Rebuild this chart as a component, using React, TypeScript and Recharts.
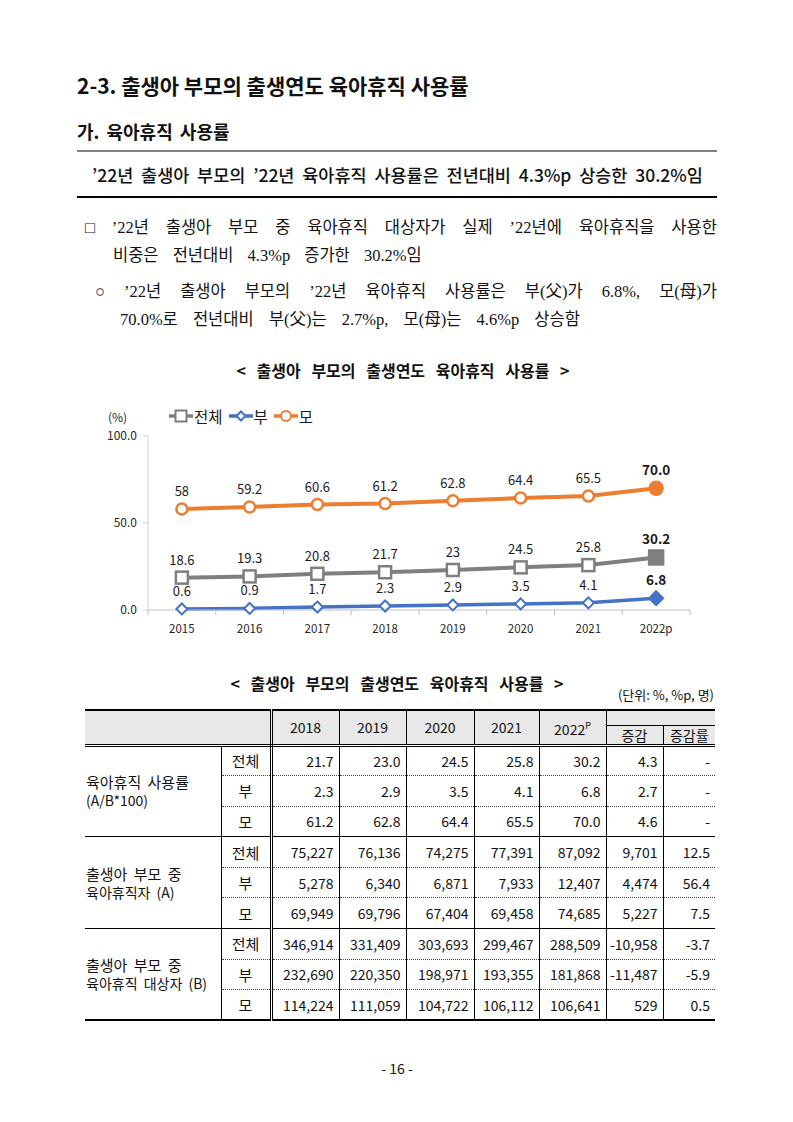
import { LineChart, Line, XAxis, YAxis, LabelList } from 'recharts'

// chart values (%)
const YEARS = ['2015', '2016', '2017', '2018', '2019', '2020', '2021', '2022p']
const TOTAL = [18.6, 19.3, 20.8, 21.7, 23, 24.5, 25.8, 30.2]
const FATHER = [0.6, 0.9, 1.7, 2.3, 2.9, 3.5, 4.1, 6.8]
const MOTHER = [58, 59.2, 60.6, 61.2, 62.8, 64.4, 65.5, 70.0]
const Y_TICKS = [0, 50, 100]

// table values
const TABLE_YEARS = ['2018', '2019', '2020', '2021', '2022']
const RATE_ROWS = [
  ['전체', '21.7', '23.0', '24.5', '25.8', '30.2', '4.3', '-'],
  ['부', '2.3', '2.9', '3.5', '4.1', '6.8', '2.7', '-'],
  ['모', '61.2', '62.8', '64.4', '65.5', '70.0', '4.6', '-'],
]
const LEAVE_ROWS = [
  ['전체', '75,227', '76,136', '74,275', '77,391', '87,092', '9,701', '12.5'],
  ['부', '5,278', '6,340', '6,871', '7,933', '12,407', '4,474', '56.4'],
  ['모', '69,949', '69,796', '67,404', '69,458', '74,685', '5,227', '7.5'],
]
const ELIGIBLE_ROWS = [
  ['전체', '346,914', '331,409', '303,693', '299,467', '288,509', '-10,958', '-3.7'],
  ['부', '232,690', '220,350', '198,971', '193,355', '181,868', '-11,487', '-5.9'],
  ['모', '114,224', '111,059', '104,722', '106,112', '106,641', '529', '0.5'],
]
const GROUPS = [
  { label: ['육아휴직 사용률', '(A/B*100)'], rows: RATE_ROWS },
  { label: ['출생아 부모 중', '육아휴직자 (A)'], rows: LEAVE_ROWS },
  { label: ['출생아 부모 중', '육아휴직 대상자 (B)'], rows: ELIGIBLE_ROWS },
]

const data = YEARS.map((year, i) => ({ year, total: TOTAL[i], father: FATHER[i], mother: MOTHER[i] }))

const GRAY = '#7f7f7f'
const BLUE = '#4472c4'
const ORANGE = '#ed7d31'
const LAST = YEARS.length - 1

const CHART_W = 615
const CHART_H = 240
const Y_W = 53
const M_RIGHT = 20
const BAND = (CHART_W - Y_W - M_RIGHT) / YEARS.length

const SANS = "'Noto Sans CJK KR', 'Noto Sans', sans-serif"
const SERIF = "'Liberation Serif', 'Noto Sans CJK KR', serif"

function squareDot(props: any) {
  const { cx, cy, index } = props
  const s = index === LAST ? 7 : 6
  return (
    <rect key={`sq${index}`} x={cx - s} y={cy - s} width={s * 2} height={s * 2}
      fill={index === LAST ? GRAY : '#fff'} stroke={GRAY} strokeWidth={2.5} />
  )
}

function diamondDot(props: any) {
  const { cx, cy, index } = props
  const s = index === LAST ? 7 : 5.5
  return (
    <path key={`dm${index}`} d={`M${cx},${cy - s}L${cx + s},${cy}L${cx},${cy + s}L${cx - s},${cy}Z`}
      fill={index === LAST ? BLUE : '#fff'} stroke={BLUE} strokeWidth={2} />
  )
}

function circleDot(props: any) {
  const { cx, cy, index } = props
  return (
    <circle key={`ci${index}`} cx={cx} cy={cy} r={index === LAST ? 6.5 : 5.5}
      fill={index === LAST ? ORANGE : '#fff'} stroke={ORANGE} strokeWidth={2.5} />
  )
}

function pointLabel(props: any) {
  const x = props.x ?? props.viewBox?.x
  const y = props.y ?? props.viewBox?.y
  const last = props.index === LAST
  return (
    <text x={x} y={y - 13} textAnchor="middle" fontSize={last ? 13.5 : 13} fontWeight={last ? 700 : 400}
      fill="#1a1a1a" fontFamily={SANS}>
      {last ? Number(props.value).toFixed(1) : props.value}
    </text>
  )
}

function YearTick(props: any) {
  const { x, y, payload, index } = props
  const axisY = y - 8
  return (
    <g>
      <line x1={x - BAND / 2} x2={x - BAND / 2} y1={axisY} y2={axisY + 5} stroke="#bfbfbf" />
      {index === LAST && <line x1={x + BAND / 2} x2={x + BAND / 2} y1={axisY} y2={axisY + 5} stroke="#bfbfbf" />}
      <text x={x} y={axisY + 23} textAnchor="middle" fontSize={11.5} fill="#262626" fontFamily={SANS}>
        {payload.value}
      </text>
    </g>
  )
}

const LEGEND_ITEMS = [
  { key: 'total', name: '전체', color: GRAY, shape: 'square' },
  { key: 'father', name: '부', color: BLUE, shape: 'diamond' },
  { key: 'mother', name: '모', color: ORANGE, shape: 'circle' },
]

function ChartLegend() {
  return (
    <div style={{ position: 'absolute', left: 74, top: 0, display: 'flex', alignItems: 'center', fontFamily: SANS, fontSize: 15.5, color: '#1a1a1a', lineHeight: '22px' }}>
      {LEGEND_ITEMS.map((it) => (
        <div key={it.key} style={{ display: 'flex', alignItems: 'center', marginRight: 6 }}>
          <svg width={24} height={14}>
            <line x1={0} x2={24} y1={7} y2={7} stroke={it.color} strokeWidth={3.5} />
            {it.shape === 'square' && <rect x={6.5} y={1.5} width={11} height={11} fill="#fff" stroke={it.color} strokeWidth={2} />}
            {it.shape === 'diamond' && <path d="M12,2.5L16.5,7L12,11.5L7.5,7Z" fill="#fff" stroke={it.color} strokeWidth={2} />}
            {it.shape === 'circle' && <circle cx={12} cy={7} r={5} fill="#fff" stroke={it.color} strokeWidth={2} />}
          </svg>
          <span style={{ marginLeft: 1 }}>{it.name}</span>
        </div>
      ))}
    </div>
  )
}

function JLine({ text, left, top, width, style }: any) {
  return (
    <div style={{ position: 'absolute', left, top, width, display: 'flex', justifyContent: 'space-between', whiteSpace: 'nowrap', ...style }}>
      {text.split(' ').map((w: string, i: number) => <span key={i}>{w}</span>)}
    </div>
  )
}

const cell = (extra: any = {}) => ({
  padding: 0,
  fontFamily: SANS,
  fontSize: 14,
  color: '#111',
  ...extra,
})

function DataTable() {
  const colW = [136, 50, 68, 67, 68, 65, 67, 57, 52]
  const headBg = '#e8e8e8'
  return (
    <table style={{ position: 'absolute', left: 85, top: 709, width: 630, borderCollapse: 'collapse', tableLayout: 'fixed', borderTop: '2.5px solid #000', borderBottom: '2.5px solid #000' }}>
      <colgroup>
        {colW.map((w, i) => <col key={i} style={{ width: w }} />)}
      </colgroup>
      <thead>
        <tr style={{ height: 15 }}>
          <th colSpan={2} rowSpan={2} style={cell({ background: headBg, borderRight: '3px double #000', borderBottom: '3px double #000' })} />
          {TABLE_YEARS.map((y, i) => (
            <th key={y} rowSpan={2} style={cell({ background: headBg, fontWeight: 400, borderRight: '1px solid #000', borderBottom: '3px double #000', lineHeight: '18px' })}>
              {y}{i === TABLE_YEARS.length - 1 && <sup style={{ fontSize: 9 }}>P</sup>}
            </th>
          ))}
          <th colSpan={2} style={cell({ background: headBg, borderBottom: '1px solid #000', lineHeight: '10px' })} />
        </tr>
        <tr style={{ height: 19 }}>
          <th style={cell({ background: headBg, fontWeight: 400, lineHeight: '18px', borderRight: '1px solid #000', borderBottom: '3px double #000' })}>증감</th>
          <th style={cell({ background: headBg, fontWeight: 400, lineHeight: '18px', borderBottom: '3px double #000' })}>증감률</th>
        </tr>
      </thead>
      <tbody>
        {GROUPS.map((g, gi) =>
          g.rows.map((r, ri) => {
            const lastRow = ri === g.rows.length - 1
            const rowBorder = lastRow ? (gi === GROUPS.length - 1 ? 'none' : '1px solid #000') : '1px dotted #444'
            return (
              <tr key={`${gi}-${ri}`} style={{ height: 30.6 }}>
                {ri === 0 && (
                  <td rowSpan={3} style={cell({ borderRight: '1px solid #000', borderBottom: gi === GROUPS.length - 1 ? 'none' : '1px solid #000', paddingLeft: 1, lineHeight: '19px', fontSize: 15, wordSpacing: 3 })}>
                    <div>{g.label[0]}</div>
                    <div style={{ fontSize: 14 }}>{g.label[1]}</div>
                  </td>
                )}
                <td style={cell({ textAlign: 'center', fontSize: 15, borderRight: '3px double #000', borderBottom: rowBorder })}>{r[0]}</td>
                {r.slice(1).map((v, ci) => (
                  <td key={ci} style={cell({ textAlign: 'right', paddingRight: 5, borderRight: ci < 6 ? '1px solid #000' : 'none', borderBottom: rowBorder })}>{v}</td>
                ))}
              </tr>
            )
          })
        )}
      </tbody>
    </table>
  )
}

export default function App() {
  const abs = (left: number, top: number, extra: any = {}) => ({ position: 'absolute' as const, left, top, ...extra })
  const bodyText = { fontFamily: SERIF, fontSize: 16.5, color: '#111', whiteSpace: 'nowrap' as const, lineHeight: '26px' }
  return (
    <div style={{ position: 'absolute', left: 0, top: 0, width: 793, height: 1122, background: '#fff' }}>
      <div style={abs(77, 70, { fontFamily: SANS, fontWeight: 700, fontSize: 21, color: '#111', lineHeight: '30px', whiteSpace: 'nowrap' })}>
        2-3. 출생아 부모의 출생연도 육아휴직 사용률
      </div>
      <div style={abs(77, 119, { fontFamily: SANS, fontWeight: 700, fontSize: 18, color: '#111', lineHeight: '24px', wordSpacing: 3, whiteSpace: 'nowrap' })}>
        가. 육아휴직 사용률
      </div>
      <div style={abs(77, 150, { width: 640, height: 0, borderTop: '2px solid #808080' })} />
      <JLine text="’22년 출생아 부모의 ’22년 육아휴직 사용률은 전년대비 4.3%p 상승한 30.2%임"
        left={92} top={162} width={611}
        style={{ fontFamily: SANS, fontWeight: 500, fontSize: 17.5, color: '#111', lineHeight: '26px' }} />
      <div style={abs(77, 196, { width: 640, height: 0, borderTop: '2px solid #000' })} />

      <JLine text="□ ’22년 출생아 부모 중 육아휴직 대상자가 실제 ’22년에 육아휴직을 사용한"
        left={85} top={215} width={632} style={bodyText} />
      <div style={abs(113, 243, { ...bodyText, wordSpacing: 10 })}>
        비중은 전년대비 4.3%p 증가한 30.2%임
      </div>
      <JLine text="○ ’22년 출생아 부모의 ’22년 육아휴직 사용률은 부(父)가 6.8%, 모(母)가"
        left={95} top={279} width={622} style={bodyText} />
      <div style={abs(120, 307, { ...bodyText, wordSpacing: 11 })}>
        70.0%로 전년대비 부(父)는 2.7%p, 모(母)는 4.6%p 상승함
      </div>

      <div style={abs(0, 358, { width: 806, textAlign: 'center', fontFamily: SANS, fontWeight: 700, fontSize: 16, color: '#111', lineHeight: '24px', wordSpacing: 7, whiteSpace: 'nowrap' })}>
        &lt; 출생아 부모의 출생연도 육아휴직 사용률 &gt;
      </div>

      <div style={abs(95, 405, { width: CHART_W, height: CHART_H })}>
        <div style={abs(13, 3, { fontFamily: SANS, fontSize: 12, color: '#262626' })}>(%)</div>
        <ChartLegend />
        <LineChart width={CHART_W} height={CHART_H} data={data} margin={{ top: 31, right: M_RIGHT, bottom: 5, left: 0 }}>
          <XAxis dataKey="year" height={30} stroke="#bfbfbf" tickLine={false} tickSize={6} tickMargin={2} tick={YearTick}
            interval={0} padding={{ left: BAND / 2, right: BAND / 2 }} />
          <YAxis width={Y_W} domain={[0, 100]} ticks={Y_TICKS} stroke="#d0d0d0" tickSize={5} tickMargin={6}
            tick={{ fontSize: 12, fill: '#262626', fontFamily: SANS }} tickFormatter={(v: number) => v.toFixed(1)} />
          <Line dataKey="mother" name="모" stroke={ORANGE} strokeWidth={4} dot={circleDot} isAnimationActive={false}>
            <LabelList dataKey="mother" content={pointLabel} />
          </Line>
          <Line dataKey="total" name="전체" stroke={GRAY} strokeWidth={4} dot={squareDot} isAnimationActive={false}>
            <LabelList dataKey="total" content={pointLabel} />
          </Line>
          <Line dataKey="father" name="부" stroke={BLUE} strokeWidth={3.5} dot={diamondDot} isAnimationActive={false}>
            <LabelList dataKey="father" content={pointLabel} />
          </Line>
        </LineChart>
      </div>

      <div style={abs(0, 671, { width: 794, textAlign: 'center', fontFamily: SANS, fontWeight: 700, fontSize: 16, color: '#111', lineHeight: '24px', wordSpacing: 7, whiteSpace: 'nowrap' })}>
        &lt; 출생아 부모의 출생연도 육아휴직 사용률 &gt;
      </div>
      <div style={abs(600, 686, { width: 114, textAlign: 'right', fontFamily: SANS, fontSize: 13, color: '#111', lineHeight: '18px', whiteSpace: 'nowrap' })}>
        (단위: %, %p, 명)
      </div>

      <DataTable />

      <div style={abs(0, 1058, { width: 794, textAlign: 'center', fontFamily: SANS, fontSize: 14, color: '#111', lineHeight: '20px' })}>
        - 16 -
      </div>
    </div>
  )
}
